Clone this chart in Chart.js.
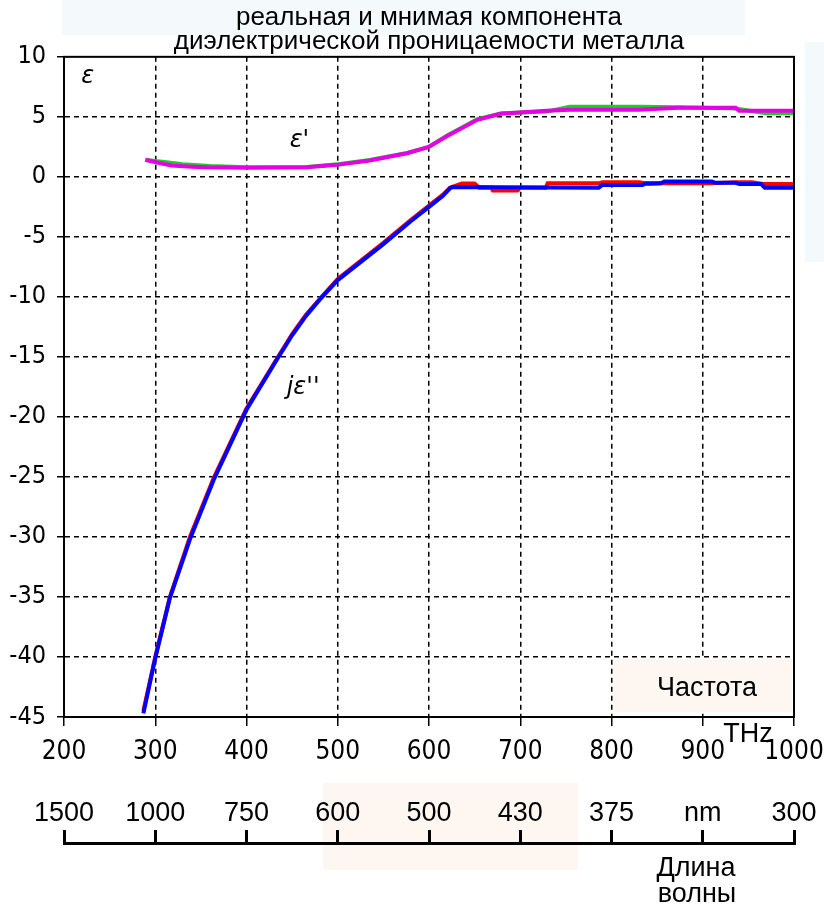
<!DOCTYPE html>
<html>
<head>
<meta charset="utf-8">
<script src="https://cdn.jsdelivr.net/npm/chart.js@4"></script>
<style>
  html, body { margin: 0; padding: 0; background: #fff; }
  #wrap { width: 824px; height: 910px; }
</style>
</head>
<body>
<div id="wrap"><canvas id="epsChart"></canvas></div>
<script>
// частота, THz -> eps' (два прогона)
const reFreq = [289, 302, 318, 340, 357, 400, 466, 499, 535, 576, 599, 620, 653, 678, 729, 754, 830, 873, 936, 940, 1000];
const reMain = [1.42, 1.2, 0.95, 0.85, 0.8, 0.75, 0.8, 1.0, 1.36, 1.97, 2.47, 3.4, 4.75, 5.25, 5.5, 5.6, 5.6, 5.75, 5.75, 5.5, 5.5];
const reAltFreq = [290, 310, 330, 360, 400, 466, 500, 535, 576, 600, 620, 653, 680, 730, 754, 831, 873, 936, 960, 970, 1000];
const reAlt = [1.4, 1.25, 1.05, 0.9, 0.8, 0.82, 1.05, 1.4, 2.0, 2.5, 3.45, 4.8, 5.3, 5.45, 5.85, 5.85, 5.8, 5.7, 5.4, 5.3, 5.3];

// частота, THz -> eps'' (два прогона)
const imFreq = [287, 300, 316, 338, 364, 400, 433, 450, 465, 480, 500, 550, 580, 600, 615, 623, 626, 786, 790, 834, 838, 854, 858, 910, 914, 936, 940, 964, 968, 1000];
const imMain = [-44.7, -40.1, -35.1, -30.2, -25.25, -19.4, -15.25, -13.2, -11.6, -10.25, -8.6, -5.6, -3.7, -2.5, -1.6, -0.95, -0.85, -0.9, -0.67, -0.67, -0.53, -0.53, -0.39, -0.39, -0.5, -0.5, -0.6, -0.6, -0.9, -0.9];
const imAltFreq = [287, 300, 316, 338, 364, 400, 433, 450, 465, 480, 500, 550, 580, 600, 615, 623, 636, 650, 655, 668, 670, 697, 700, 728, 730, 787, 790, 831, 840, 856, 908, 937, 954, 966, 1000];
const imAlt = [-44.5, -40, -35, -30, -25.1, -19.3, -15.2, -13.1, -11.5, -10.2, -8.5, -5.5, -3.6, -2.4, -1.5, -0.9, -0.55, -0.55, -0.9, -0.9, -1.14, -1.14, -0.9, -0.9, -0.53, -0.53, -0.45, -0.45, -0.6, -0.53, -0.53, -0.45, -0.45, -0.6, -0.6];

const wavelengthLabels = ['1500', '1000', '750', '600', '500', '430', '375', 'nm', '300'];

const toPoints = (xs, ys) => xs.map((x, i) => ({x: x, y: ys[i]}));

const narrow = '"Liberation Sans Narrow", "DejaVu Sans Condensed", "Liberation Sans", sans-serif';
Chart.defaults.font.family = '"Liberation Sans", Arial, sans-serif';
Chart.defaults.color = '#000';

const decor = {
  id: 'decor',
  beforeDraw(chart) {
    const ctx = chart.ctx;
    ctx.save();
    ctx.fillStyle = '#f4f9fc';
    ctx.fillRect(62, 0, 683, 35);
    ctx.fillRect(805, 42, 19, 220);
    ctx.fillStyle = '#fdf6f1';
    ctx.fillRect(323, 783, 255, 87);
    ctx.restore();
  },
  beforeDatasetsDraw(chart) {
    const ctx = chart.ctx;
    ctx.save();
    ctx.fillStyle = '#fdf6f1';
    ctx.fillRect(613, 659, 179, 53);
    ctx.restore();
  },
  afterDraw(chart) {
    const {ctx, chartArea: a} = chart;
    const x = chart.scales.x, y = chart.scales.y;
    ctx.save();
    ctx.strokeStyle = '#000';
    ctx.lineWidth = 2;
    ctx.strokeRect(a.left, a.top, a.right - a.left, a.bottom - a.top);

    ctx.fillStyle = '#000';
    ctx.textAlign = 'center';
    ctx.textBaseline = 'middle';
    ctx.font = 'italic 24px "DejaVu Sans"';
    ctx.fillText('ε', x.getPixelForValue(226), y.getPixelForValue(8.3));
    ctx.fillText('ε\'', x.getPixelForValue(458), y.getPixelForValue(3.0));
    ctx.fillText('jε\'\'', x.getPixelForValue(462), y.getPixelForValue(-17.6));

    ctx.font = '27px "Liberation Sans"';
    ctx.fillText('Частота', 707, 689);
    ctx.fillText('THz', 748, 735);
    ctx.fillText('Длина', 696, 869);
    ctx.fillText('волны', 697, 895);
    ctx.restore();
  }
};

const noSidePadding = s => { s.paddingLeft = 0; s.paddingRight = 0; };

new Chart(document.getElementById('epsChart'), {
  type: 'line',
  data: {
    datasets: [
      {data: toPoints(imFreq, imMain), borderColor: '#0000ff', borderWidth: 4},
      {data: toPoints(imAltFreq, imAlt), borderColor: '#ff0000', borderWidth: 4},
      {data: toPoints(reFreq, reMain), borderColor: '#e600e6', borderWidth: 4},
      {data: toPoints(reAltFreq, reAlt), borderColor: '#22cc22', borderWidth: 4}
    ]
  },
  options: {
    responsive: true,
    maintainAspectRatio: false,
    animation: false,
    layout: {padding: {left: 0, right: 30, top: 0, bottom: 0}},
    elements: {point: {radius: 0}, line: {tension: 0}},
    plugins: {
      legend: {display: false},
      tooltip: {enabled: false},
      title: {
        display: true,
        fullSize: false,
        text: ['реальная и мнимая компонента', 'диэлектрической проницаемости металла'],
        font: {size: 26, weight: 'normal', lineHeight: 0.92},
        color: '#000',
        padding: {top: 6, bottom: 3}
      }
    },
    scales: {
      x: {
        type: 'linear',
        position: 'bottom',
        weight: 0,
        min: 200,
        max: 1000,
        border: {display: true, color: '#000', width: 2, dash: [5, 4]},
        grid: {
          color: c => (c.tick && (c.tick.value === 200 || c.tick.value === 1000)) ? 'rgba(0,0,0,0)' : '#000',
          lineWidth: 1.5,
          tickColor: '#000',
          tickWidth: 1.5,
          tickLength: 9,
          tickBorderDash: []
        },
        ticks: {
          stepSize: 100, padding: 11, autoSkip: false, maxRotation: 0,
          font: {size: 26, family: narrow},
          callback: v => String(v)
        },
        afterFit: s => { s.height = 126; noSidePadding(s); }
      },
      x2: {
        type: 'linear',
        position: 'bottom',
        weight: 1,
        min: 200,
        max: 1000,
        border: {display: true, color: '#000', width: 3},
        grid: {drawOnChartArea: false, tickColor: '#000', tickWidth: 3, tickLength: -13},
        ticks: {
          stepSize: 100,
          mirror: true,
          padding: 13,
          autoSkip: false,
          maxRotation: 0,
          font: {size: 27},
          callback: (v, i) => wavelengthLabels[i]
        },
        afterFit: s => { s.height = 67; noSidePadding(s); }
      },
      y: {
        type: 'linear',
        min: -45,
        max: 10,
        border: {display: true, color: '#000', width: 2, dash: [5, 4]},
        grid: {
          color: c => (c.tick && (c.tick.value === 10 || c.tick.value === -45)) ? 'rgba(0,0,0,0)' : '#000',
          lineWidth: 1.5,
          tickColor: '#000',
          tickWidth: 1.5,
          tickLength: 7,
          tickBorderDash: []
        },
        ticks: {stepSize: 5, padding: 11, font: {size: 25, family: narrow}},
        afterFit: s => { s.width = 64; }
      }
    }
  },
  plugins: [decor]
});
</script>
</body>
</html>
